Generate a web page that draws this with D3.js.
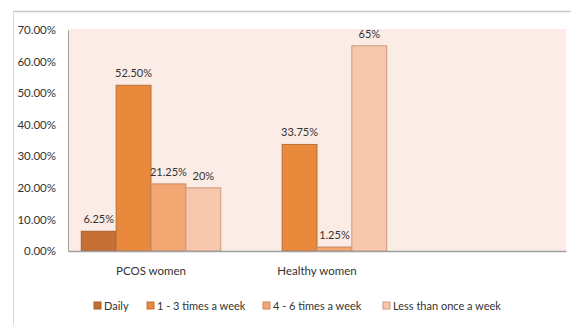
<!DOCTYPE html>
<html>
<head lang="en">
    <meta charset="UTF-8">
    <script type="text/javascript" src="https://d3js.org/d3.v7.min.js"></script>
    <style>
        body { margin: 0; background: #fff; }
        text { font-family: Lato, "Open Sans", sans-serif; font-size: 11px; fill: #333; }
    </style>
</head>
<body>
    <svg id="chart" width="571" height="325"></svg>
    <script>
        // data
        var groups = ["PCOS women", "Healthy women", ""];
        var series = ["Daily", "1 - 3 times a week", "4 - 6 times  a week", "Less than once a week"];
        var pcosValues = [6.25, 52.5, 21.25, 20];
        var healthyValues = [0, 33.75, 1.25, 65];
        var pcosLabels = ["6.25%", "52.50%", "21.25%", "20%"];
        var healthyLabels = ["", "33.75%", "1.25%", "65%"];
        var yTicks = [0, 10, 20, 30, 40, 50, 60, 70];

        var colors = ["#c46f33", "#e8893b", "#f3a874", "#f8c8ae"];
        var strokes = ["#a85d2a", "#b8703a", "#c88862", "#c9987e"];

        var svg = d3.select("#chart");
        var plotLeft = 68, plotRight = 566, plotTop = 30, plotBottom = 251;

        // outer frame
        svg.append("line").attr("x1", 13).attr("x2", 571).attr("y1", 11.5).attr("y2", 11.5)
            .attr("stroke", "#c8c8c8").attr("stroke-width", 1.5);
        svg.append("line").attr("x1", 13.5).attr("x2", 13.5).attr("y1", 11).attr("y2", 325)
            .attr("stroke", "#d8d8d8");

        var yScale = d3.scaleLinear().domain([0, 70]).range([plotBottom, plotTop]);
        var xGroup = d3.scaleBand().domain(groups).range([plotLeft, plotRight]).paddingInner(0.16).paddingOuter(0.08);
        var xSeries = d3.scaleBand().domain(series).range([0, xGroup.bandwidth()]);

        // plot background
        svg.append("rect").attr("x", plotLeft).attr("y", plotTop - 1)
            .attr("width", plotRight - plotLeft).attr("height", plotBottom - plotTop + 1)
            .attr("fill", "#fbece6");

        var rows = [
            { group: groups[0], values: pcosValues, labels: pcosLabels },
            { group: groups[1], values: healthyValues, labels: healthyLabels }
        ];

        var g = svg.selectAll("g.grp").data(rows).enter().append("g")
            .attr("class", "grp")
            .attr("transform", function(d){ return "translate(" + xGroup(d.group) + ",0)"; });

        g.selectAll("rect").data(function(d){ return d.values; }).enter().append("rect")
            .attr("x", function(d,i){ return xSeries(series[i]); })
            .attr("y", function(d){ return yScale(d); })
            .attr("width", xSeries.bandwidth())
            .attr("height", function(d){ return plotBottom - yScale(d); })
            .attr("fill", function(d,i){ return colors[i]; })
            .attr("stroke", function(d,i){ return d > 0 ? strokes[i] : "none"; })
            .attr("stroke-width", 1);

        g.selectAll("text").data(function(d){ return d.values.map(function(v,i){ return { v: v, l: d.labels[i], i: i }; }); })
            .enter().append("text")
            .attr("x", function(d){ return xSeries(series[d.i]) + xSeries.bandwidth() / 2; })
            .attr("y", function(d){ return yScale(d.v) - 8; })
            .attr("text-anchor", "middle")
            .text(function(d){ return d.l; });

        // axes
        var yAxis = svg.append("g").attr("transform", "translate(" + plotLeft + ",0)")
            .call(d3.axisLeft(yScale).tickValues(yTicks).tickSize(0).tickPadding(12)
                .tickFormat(function(d){ return d.toFixed(2) + "%"; }));
        yAxis.select(".domain").attr("stroke", "#a0a0a0");
        yAxis.selectAll("text").style("font-size", "11.5px").attr("fill", "#333");

        var xAxis = svg.append("g").attr("transform", "translate(0," + plotBottom + ")")
            .call(d3.axisBottom(xGroup).tickSize(0).tickPadding(16));
        xAxis.select(".domain").attr("stroke", "#a0a0a0").attr("stroke-width", 1.5);
        xAxis.selectAll("text").style("font-size", "11.5px").attr("fill", "#333");

        // legend
        var legendX = [94, 147, 263, 383];
        var legend = svg.selectAll("g.leg").data(series).enter().append("g")
            .attr("class", "leg")
            .attr("transform", function(d,i){ return "translate(" + legendX[i] + ",302)"; });
        legend.append("rect").attr("width", 7).attr("height", 7)
            .attr("fill", function(d,i){ return colors[i]; })
            .attr("stroke", function(d,i){ return strokes[i]; });
        legend.append("text").attr("x", 10).attr("y", 7.5).text(function(d){ return d; });
    </script>
</body>
</html>
